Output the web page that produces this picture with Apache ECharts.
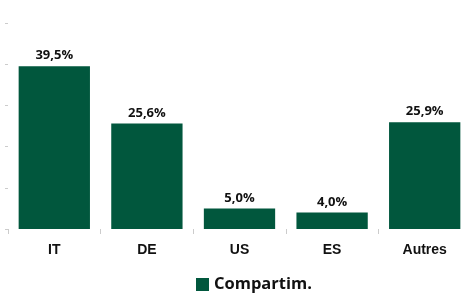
<!DOCTYPE html>
<html>
<head>
<meta charset="utf-8">
<script src="https://cdn.jsdelivr.net/npm/echarts@6/dist/echarts.min.js"></script>
<style>
  html, body { margin: 0; padding: 0; background: #fff; }
  #chart { width: 471px; height: 293px; }
</style>
</head>
<body>
<div id="chart"></div>
<script>
const categories = ['IT', 'DE', 'US', 'ES', 'Autres'];
const shares = [39.5, 25.6, 5.0, 4.0, 25.9];
const seriesName = 'Compartim.';

const chart = echarts.init(document.getElementById('chart'));
chart.setOption({
  animation: false,
  grid: { left: 8, right: -6, top: 23, bottom: 64 },
  legend: {
    data: [seriesName],
    top: 271,
    left: 191,
    icon: 'rect',
    itemWidth: 13,
    itemHeight: 13,
    itemGap: 10,
    textStyle: { fontFamily: 'Open Sans', fontWeight: 'bold', fontSize: 16.5, color: '#111' }
  },
  xAxis: {
    type: 'category',
    data: categories,
    axisLine: { show: false },
    axisTick: { show: true, length: 5, lineStyle: { color: '#ccc' } },
    axisLabel: {
      margin: 14,
      fontFamily: 'Liberation Sans',
      fontWeight: 'bold',
      fontSize: 14,
      color: '#111'
    }
  },
  yAxis: {
    type: 'value',
    min: 0,
    max: 50,
    interval: 10,
    splitLine: { show: false },
    axisLine: { show: false },
    axisTick: { show: true, length: 3, lineStyle: { color: '#ccc' } },
    axisLabel: { show: false }
  },
  series: [{
    name: seriesName,
    type: 'bar',
    data: shares,
    barWidth: '77%',
    itemStyle: { color: '#01573d' },
    label: {
      show: true,
      position: 'top',
      distance: 4,
      formatter: p => p.value.toFixed(1).replace('.', ',') + '%',
      fontFamily: 'Open Sans',
      fontWeight: 'bold',
      fontSize: 13,
      color: '#111'
    }
  }]
});
</script>
</body>
</html>
